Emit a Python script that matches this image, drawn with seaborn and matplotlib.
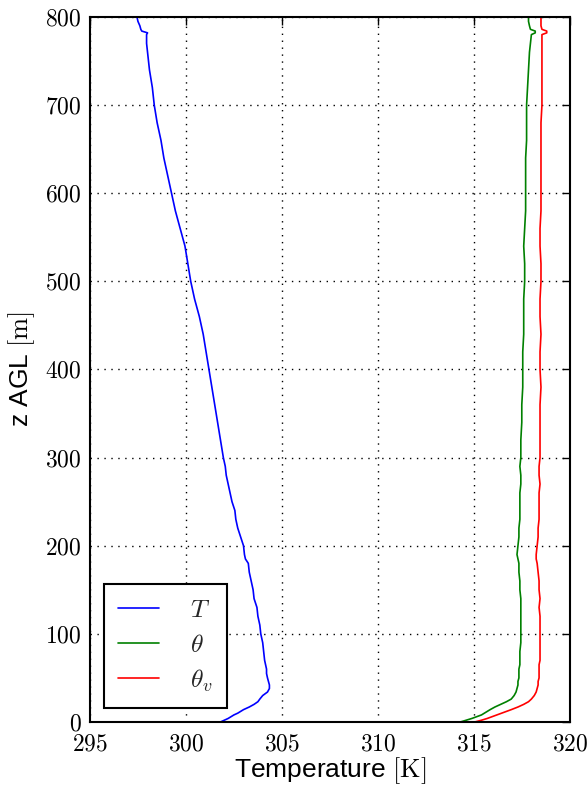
import numpy as np
import pandas as pd
import matplotlib
matplotlib.use("Agg")
import matplotlib.pyplot as plt
import seaborn as sns

z = [0, 2, 4, 6, 8, 10, 12, 14, 17, 20, 23, 26, 30, 34, 38, 42, 46, 50, 55, 60, 65, 70,
     80, 90, 100, 110, 120, 130, 140, 150, 160, 170, 180, 185, 190, 200, 210, 220, 230,
     240, 250, 260, 270, 280, 290, 300, 320, 340, 360, 380, 400, 420, 440, 460, 480, 500,
     520, 540, 560, 580, 600, 620, 640, 660, 680, 700, 720, 740, 760, 770, 780, 782, 784,
     786, 790, 795, 800]

T = [301.8, 302.0, 302.2, 302.35, 302.5, 302.7, 302.85, 303.0, 303.3, 303.55, 303.75, 303.85,
     304.0, 304.25, 304.35, 304.35, 304.3, 304.25, 304.2, 304.2, 304.15, 304.1, 304.05, 304.0,
     303.9, 303.85, 303.75, 303.7, 303.55, 303.5, 303.4, 303.3, 303.25, 303.1, 303.05, 303.0,
     302.85, 302.7, 302.6, 302.55, 302.4, 302.3, 302.2, 302.1, 302.05, 301.95, 301.8, 301.65,
     301.5, 301.35, 301.2, 301.05, 300.9, 300.7, 300.45, 300.25, 300.1, 299.95, 299.7, 299.45,
     299.25, 299.05, 298.85, 298.7, 298.5, 298.35, 298.25, 298.1, 298.0, 297.95, 297.95, 298.0,
     297.7, 297.65, 297.6, 297.5, 297.45]

theta = [314.3, 314.6, 314.9, 315.15, 315.4, 315.55, 315.7, 315.85, 316.1, 316.4, 316.7, 316.95,
         317.1, 317.2, 317.25, 317.3, 317.3, 317.35, 317.35, 317.35, 317.4, 317.4, 317.4, 317.45,
         317.45, 317.45, 317.45, 317.45, 317.45, 317.4, 317.4, 317.35, 317.35, 317.3, 317.25, 317.3,
         317.35, 317.35, 317.4, 317.4, 317.4, 317.4, 317.45, 317.45, 317.4, 317.45, 317.45, 317.5,
         317.5, 317.55, 317.55, 317.55, 317.6, 317.6, 317.6, 317.65, 317.65, 317.6, 317.65, 317.7,
         317.7, 317.7, 317.7, 317.75, 317.75, 317.75, 317.8, 317.85, 317.9, 317.95, 318.0, 318.2,
         318.2, 317.95, 317.9, 317.85, 317.85]

theta_v = [315.05, 315.4, 315.7, 315.95, 316.2, 316.45, 316.7, 316.95, 317.3, 317.6, 317.85, 318.0,
           318.15, 318.25, 318.3, 318.35, 318.35, 318.4, 318.4, 318.4, 318.4, 318.45, 318.45, 318.45,
           318.45, 318.45, 318.45, 318.4, 318.45, 318.4, 318.4, 318.35, 318.3, 318.25, 318.25, 318.3,
           318.35, 318.35, 318.4, 318.4, 318.4, 318.4, 318.45, 318.4, 318.4, 318.45, 318.45, 318.45,
           318.45, 318.5, 318.45, 318.45, 318.5, 318.45, 318.45, 318.5, 318.5, 318.45, 318.45, 318.5,
           318.5, 318.5, 318.5, 318.5, 318.5, 318.55, 318.55, 318.55, 318.55, 318.55, 318.55, 318.8,
           318.8, 318.55, 318.5, 318.5, 318.5]

series_labels = [r"$T$", r"$\theta$", r"$\theta_v$"]
series_colors = ["#0000ff", "#008000", "#ff0000"]
xticks = [295, 300, 305, 310, 315, 320]
yticks = [0, 100, 200, 300, 400, 500, 600, 700, 800]

sns.set_theme(style="white")
plt.rcParams["mathtext.fontset"] = "cm"
plt.rcParams["font.family"] = ["Liberation Sans", "DejaVu Sans"]

fig = plt.figure(figsize=(5.88, 7.90), dpi=100)
ax = fig.add_axes([0.153, 0.0861, 0.816, 0.8924])

for vals, lab, col in zip([T, theta, theta_v], series_labels, series_colors):
    df = pd.DataFrame({"temp": vals, "z": z})
    sns.lineplot(data=df, x="temp", y="z", orient="y", sort=False, estimator=None,
                 color=col, lw=1.2, label=lab, ax=ax)

ax.set_xlim(295, 320)
ax.set_ylim(0, 800)
ax.set_xticks(xticks)
ax.set_yticks(yticks)
ax.set_xticklabels([f"${v}$" for v in xticks], fontsize=17)
ax.set_yticklabels([f"${v}$" for v in yticks], fontsize=17)
ax.tick_params(direction="in", length=6, width=1, top=True, right=True, colors="black")
ax.tick_params(axis="x", pad=8)
ax.tick_params(axis="y", pad=6)
ax.grid(True, color="black", linestyle=(0, (1, 4)), linewidth=1)
for s in ax.spines.values():
    s.set_color("black")
    s.set_linewidth(1.5)

ax.set_xlabel(r"Temperature $[\mathrm{K}]$", fontsize=19, color="black", labelpad=0)
ax.set_ylabel(r"z AGL $[\mathrm{m}]$", fontsize=19, color="black", labelpad=6)

leg = ax.legend(loc="lower left", fontsize=18.5, frameon=True, fancybox=False,
                edgecolor="black", handlelength=1.6, borderpad=0.55, labelspacing=0.42,
                handletextpad=1.2, borderaxespad=0.55)
leg.get_frame().set_linewidth(1.5)
leg.get_frame().set_alpha(1)

fig.savefig("out.png", dpi=100)
